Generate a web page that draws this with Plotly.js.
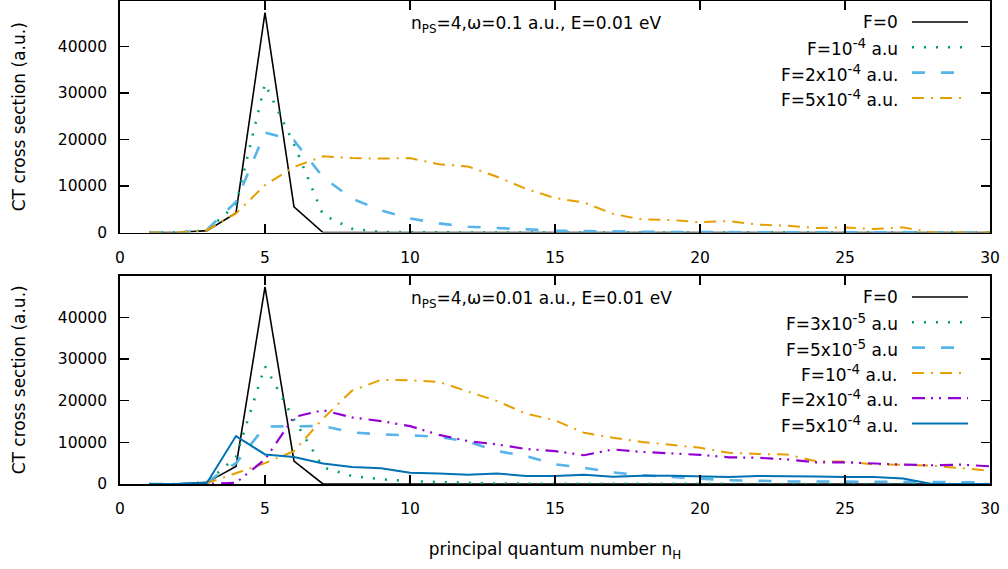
<!DOCTYPE html>
<html>
<head>
<meta charset="utf-8">
<script src="https://cdn.plot.ly/plotly-3.0.1.min.js"></script>
<style>html,body{margin:0;padding:0;background:#fff;}#chart{width:1008px;height:569px;}</style>
</head>
<body>
<div id="chart"></div>
<script>
// principal quantum number n_H
const nH = [1,2,3,4,5,6,7,8,9,10,11,12,13,14,15,16,17,18,19,20,21,22,23,24,25,26,27,28,29,30];

// ---- top panel: n_PS=4, omega=0.1 a.u., E=0.01 eV ----
const topF0     = [0,0,400,4200,47300,5500,0,0,0,0,0,0,0,0,0,0,0,0,0,0,0,0,0,0,0,0,0,0,0,0];
const topF1e4   = [0,0,450,6000,32000,19000,3800,800,100,30,10,5,0,0,0,0,0,0,0,0,0,0,0,0,0,0,0,0,0,0];
const topF2e4   = [0,0,600,6600,21500,19800,11900,7300,4750,3030,1960,1250,960,680,400,300,200,150,100,80,60,50,40,30,20,20,10,10,0,0];
const topF5e4   = [0,0,500,4100,10200,14100,16400,16000,15900,16000,14700,14200,12000,9400,7400,6450,4000,2800,2700,2200,2450,1700,1450,950,1100,750,1100,0,0,0];

// ---- bottom panel: n_PS=4, omega=0.01 a.u., E=0.01 eV ----
const botF0     = [0,0,400,4200,47300,5500,0,0,0,0,0,0,0,0,0,0,0,0,0,0,0,0,0,0,0,0,0,0,0,0];
const botF3e5   = [0,0,400,6500,28300,15500,4000,1900,1150,700,450,250,100,80,50,40,30,20,20,10,10,0,0,0,0,0,0,0,0,0];
const botF5e5   = [0,0,500,5000,13800,13900,13900,12400,11900,11700,11300,10200,7900,6700,4700,3900,2800,2100,1700,1400,900,800,600,600,550,500,450,450,400,400];
const botF1e4   = [0,0,200,2600,5000,7900,15700,22400,25000,24900,24500,22200,19900,16900,15300,12300,11100,10100,9400,8700,7500,7200,7100,5450,5400,4700,4600,4400,3800,3200];
const botF2e4   = [0,0,0,300,5900,16100,17700,16000,15100,13900,11800,10300,9500,8400,7900,6900,8300,7700,7400,7000,6400,6300,5900,5200,5200,4900,4650,4500,4650,4250];
const botF5e4   = [0,0,300,11500,7100,6500,4900,4100,3800,2700,2500,2250,2500,1950,1950,2250,1750,2000,2000,1900,1700,1900,1900,1800,1700,1700,1300,0,0,0];

const SUP = s => '<sup><span style="font-size:13.5px">' + s + '</span></sup>';
const topLabels = ["F=0", "F=10" + SUP("-4") + " a.u", "F=2x10" + SUP("-4") + " a.u.", "F=5x10" + SUP("-4") + " a.u."];
const botLabels = ["F=0", "F=3x10" + SUP("-5") + " a.u", "F=5x10" + SUP("-5") + " a.u", "F=10" + SUP("-4") + " a.u.", "F=2x10" + SUP("-4") + " a.u.", "F=5x10" + SUP("-4") + " a.u."];
const topNote = "n<sub>PS</sub>=4,ω=0.1 a.u., E=0.01 eV";
const botNote = "n<sub>PS</sub>=4,ω=0.01 a.u., E=0.01 eV";
const xTicks = [0,5,10,15,20,25,30];
const yTicks = [0,10000,20000,30000,40000];

// styles
const S = {
  black:  {color:'#000000', width:1.6, dash:'solid'},
  green:  {color:'#009e73', width:2.6, dash:'2px,10px'},
  sky:    {color:'#56b4e9', width:2.6, dash:'13px,16px'},
  orange: {color:'#e69f00', width:2.0, dash:'12px,7px,2px,7px'},
  purple: {color:'#9400d3', width:2.2, dash:'13px,6px,2px,6px,2px,7px'},
  blue:   {color:'#0072b2', width:2.0, dash:'solid'}
};

const W = 1008, H = 569;
const ML = 120, MR = 18, MT = 1, MB = 85;
const PW = W - ML - MR, PH = H - MT - MB;
const px = x => (x - ML) / PW;
const py = y => (PH - (y - MT)) / PH;

function tr(y, style, xa, ya, name) {
  return {x: nH, y: y, type:'scatter', mode:'lines', name: name, xaxis: xa, yaxis: ya,
          line: {color: style.color, width: style.width, dash: style.dash}, showlegend:false, hoverinfo:'skip'};
}

const topStyles = [S.black, S.green, S.sky, S.orange];
const botStyles = [S.black, S.green, S.sky, S.orange, S.purple, S.blue];
const topSeries = [topF0, topF1e4, topF2e4, topF5e4];
const botSeries = [botF0, botF3e5, botF5e5, botF1e4, botF2e4, botF5e4];

const data = [];
topSeries.forEach((s,i) => data.push(tr(s, topStyles[i], 'x', 'y', topLabels[i])));
botSeries.forEach((s,i) => data.push(tr(s, botStyles[i], 'x2', 'y2', botLabels[i])));

const fam = 'DejaVu Sans, Verdana, sans-serif';
const font = {family: fam, size:15.5, color:'#000'};
const textFont = {family: fam, size:17, color:'#000'};

const annotations = [];
const shapes = [];
function legendRows(labels, styles, y0) {
  labels.forEach((t,i) => {
    const yy = y0 + i*25.3;
    annotations.push({xref:'paper', yref:'paper', x: px(900), y: py(yy), xanchor:'right', yanchor:'middle',
      text: t, showarrow:false, font: textFont});
    shapes.push({type:'line', xref:'paper', yref:'paper', x0: px(912), x1: px(968), y0: py(yy), y1: py(yy),
      line:{color: styles[i].color, width: styles[i].width, dash: styles[i].dash}});
  });
}
legendRows(topLabels, topStyles, 22);
legendRows(botLabels, botStyles, 297);
annotations.push({xref:'paper', yref:'paper', x: px(409), y: py(25), xanchor:'left', yanchor:'middle', text: topNote, showarrow:false, font: textFont});
annotations.push({xref:'paper', yref:'paper', x: px(409), y: py(299), xanchor:'left', yanchor:'middle', text: botNote, showarrow:false, font: textFont});

const axCommon = {
  showline:true, linecolor:'#000', linewidth:1.8, mirror:'ticks', ticks:'inside', ticklen:9, tickwidth:1.5, tickcolor:'#000',
  showgrid:false, zeroline:false, tickfont: font, automargin:false
};

const layout = {
  width: W, height: H,
  margin: {l: ML, r: MR, t: MT, b: MB, pad: 0},
  paper_bgcolor:'#fff', plot_bgcolor:'#fff',
  font: font,
  showlegend:false,
  xaxis: Object.assign({}, axCommon, {domain:[0,1], range:[0,30], tickvals:xTicks, ticktext:xTicks.map(String), anchor:'y', ticklabelstandoff:10}),
  yaxis: Object.assign({}, axCommon, {domain:[py(232.5),1], range:[0,49800], tickvals:yTicks, ticktext:yTicks.map(String), anchor:'x', ticklabelstandoff:8,
    title:{text:'CT cross section (a.u.)', font: textFont, standoff: 28}}),
  xaxis2: Object.assign({}, axCommon, {domain:[0,1], range:[0,30], tickvals:xTicks, ticktext:xTicks.map(String), anchor:'y2', ticklabelstandoff:10,
    title:{text:'principal quantum number n<sub>H</sub>', font: textFont, standoff: 26}}),
  yaxis2: Object.assign({}, axCommon, {domain:[0,py(275.7)], range:[0,50000], tickvals:yTicks, ticktext:yTicks.map(String), anchor:'x2', ticklabelstandoff:8,
    title:{text:'CT cross section (a.u.)', font: textFont, standoff: 28}}),
  annotations: annotations,
  shapes: shapes
};

Plotly.newPlot('chart', data, layout, {staticPlot:true, displayModeBar:false});
</script>
</body>
</html>
